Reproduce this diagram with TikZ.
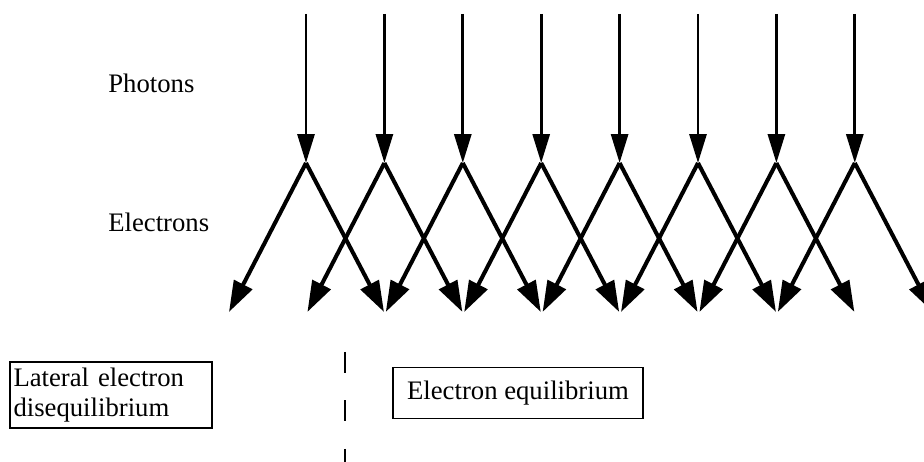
\documentclass[tikz,border=0pt]{standalone}
\usepackage{fontspec}
\setmainfont{Liberation Serif}
\usetikzlibrary{arrows.meta, positioning}
\tikzset{
  photon/.style={-{Triangle[length=0.58cm, width=0.34cm]}, line width=1.7pt},
  electron/.style={-{Triangle[length=0.62cm, width=0.4cm]}, line width=2.3pt},
  label/.style={font=\fontsize{15.2}{18}\selectfont, anchor=west, inner sep=0pt},
  regionbox/.style={rectangle, draw, line width=1.1pt, font=\fontsize{15.2}{17.5}\selectfont, inner xsep=3pt},
}
\begin{document}
\begin{tikzpicture}[x=0.02cm, y=-0.02cm]
\useasboundingbox (0,0) rectangle (924,462);

% Labels
\node[label] (photons) at (108,83) {Photons};
\node[label] (electrons) at (108,222) {Electrons};

% Photons hitting the medium, each setting two electrons in motion
\foreach \i in {0,...,7} {
  \coordinate (src\i) at ({306+78.4*\i},14);
  \coordinate (hit\i) at ({306+78.4*\i},163);
  \coordinate (left\i) at ({229+78.4*\i},312);
  \coordinate (right\i) at ({384+78.4*\i},312);
  \draw[photon] (src\i) -- (hit\i);
  \draw[electron] (hit\i) -- (left\i);
  \draw[electron] (hit\i) -- (right\i);
}

% Regions
\node[regionbox, minimum width=4.04cm, minimum height=1.32cm, text width=3.9cm, align=left, inner xsep=2pt] (lateral) at (111,395) {Lateral electron\\disequilibrium};
\node[regionbox, minimum width=5cm, minimum height=1.02cm] (equil) at (518,393) {Electron equilibrium};

\coordinate (divtop) at (345,352);
\coordinate (divbot) at (345,470);
\draw[line width=1.3pt, dash pattern=on 0.42cm off 0.55cm] (divtop) -- (divbot);

\end{tikzpicture}
\end{document}
